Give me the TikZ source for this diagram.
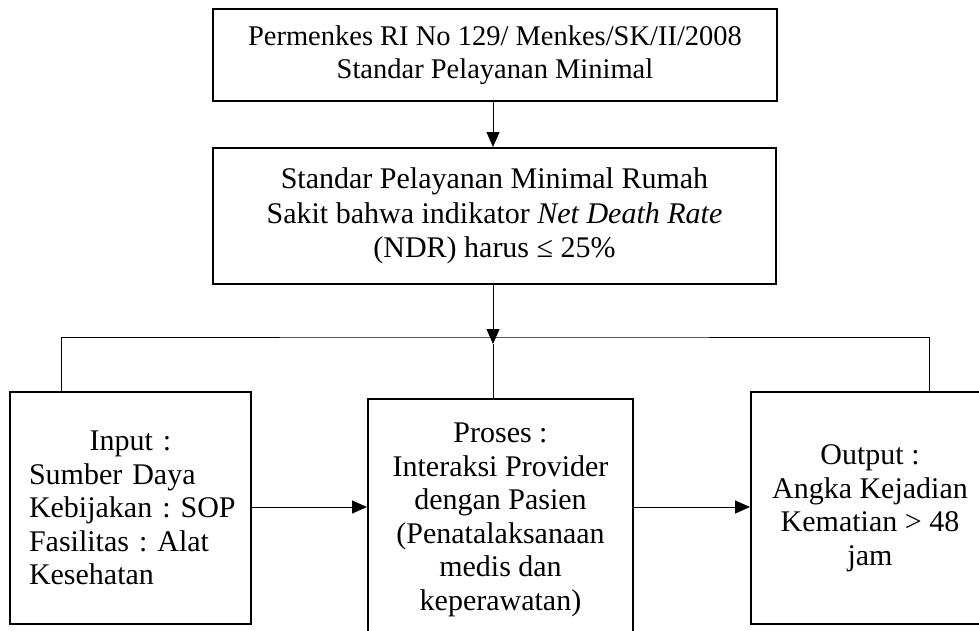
\documentclass[tikz,border=0pt]{standalone}
\usepackage{fontspec}
\setmainfont{Liberation Serif}
\usetikzlibrary{calc,positioning,arrows.meta}

\begin{document}
\frenchspacing
\begin{tikzpicture}[x=1pt,y=-1pt,>={Triangle[length=15pt,width=13pt]},
  font=\fontsize{30}{33.5}\selectfont,
  box/.style={draw,line width=2pt,inner sep=0pt,align=center},
  link/.style={line width=1pt}]
\useasboundingbox (0,0) rectangle (979,630);
\clip (0,0) rectangle (979,630);
\node[box,minimum width=564,minimum height=92,font=\fontsize{28.5}{32.5}\selectfont] (perm) at (495,55)
  {Permenkes RI No 129/ Menkes/SK/II/2008\\Standar Pelayanan Minimal};
\node[box,minimum width=563,minimum height=136,font=\fontsize{30}{34.5}\selectfont] (spm) at (494.5,216)
  {Standar Pelayanan Minimal Rumah\\Sakit bahwa indikator \textit{Net Death Rate}\\(NDR) harus ≤ 25\%};
\node[box,minimum width=241,minimum height=232,text width=203,align=left] (inp) at (130.5,508)
  {{\centering Input :\par}\raggedright Sumber Daya\\Kebijakan~:~SOP\\Fasilitas : Alat\\Kesehatan};
\node[box,minimum width=265,minimum height=242] (pros) at (500.5,520)
  {Proses :\\Interaksi Provider\\dengan Pasien\\(Penatalaksanaan\\medis dan\\keperawatan)};
\node[box,minimum width=238,minimum height=232] (outp) at (870,508)
  {Output :\\Angka Kejadian\\Kematian > 48\\jam};
\coordinate (bus) at (493,337); \coordinate (tip) at (493,344);
% perm -> spm -> cabang
\draw[link,->] (perm.south -| bus) -- (spm.north -| bus);
\draw[link,->] (spm.south -| bus) -- (tip);
\draw[link] (tip) -- (pros.north -| bus);
\draw[link] ([xshift=-69.5]inp.north) |- (bus) -| ([xshift=59]outp.north);
% alur input - proses - output
\draw[link,->] ([yshift=1]inp.east) -- ([yshift=1]inp.east -| pros.west);
\draw[link,->] ([yshift=1]pros.east |- outp.west) -- ([yshift=1]outp.west);
\end{tikzpicture}
\end{document}
